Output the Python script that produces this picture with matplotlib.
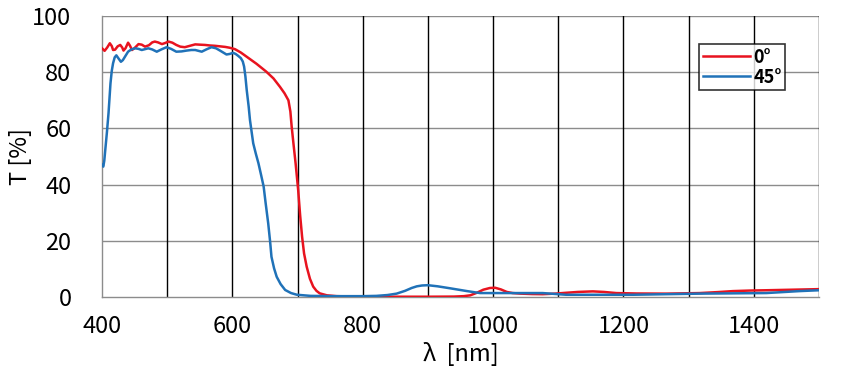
import matplotlib
matplotlib.use("Agg")
import matplotlib.pyplot as plt
import numpy as np

plt.rcParams['font.family'] = ['Noto Sans CJK JP', 'DejaVu Sans']

# 0 deg series
wl_0 = [400, 404, 408, 412, 415, 417, 420, 424, 428, 431, 433, 436, 440, 443, 446, 450, 456, 461,
        466, 472, 477, 481, 486, 492, 497, 502, 508, 514, 520, 527, 535, 543, 550, 558, 566, 573,
        581, 589, 596, 604, 613, 622, 637, 652, 663, 673, 680, 686, 689, 691, 694, 697, 701, 704,
        707, 710, 714, 719, 724, 729, 734, 745, 760, 800, 850, 900, 940, 955, 965, 975, 985, 995,
        1003, 1012, 1021, 1030, 1042, 1060, 1076, 1095, 1112, 1130, 1153, 1170, 1189, 1220, 1266,
        1317, 1345, 1368, 1395, 1419, 1460, 1500]
t_0 = [88.5, 87.6, 88.8, 90.3, 89.3, 87.9, 88.0, 89.2, 89.7, 88.8, 87.7, 88.5, 90.5, 89.4, 87.9, 88.6, 90.0, 89.8,
       89.1, 89.6, 90.6, 90.9, 90.6, 90.0, 90.4, 90.9, 90.5, 89.7, 89.1, 88.9, 89.4, 89.9, 89.8, 89.7, 89.5, 89.4,
       89.2, 89.0, 88.7, 88.2, 87.0, 85.5, 83.0, 80.2, 77.8, 74.8, 72.5, 70.0, 66.0, 60.6, 54.0, 47.6, 38.0, 29.0,
       21.4, 15.5, 10.8, 6.5, 3.7, 2.2, 1.3, 0.6, 0.3, 0.1, 0.1, 0.1, 0.15, 0.3, 0.6, 1.5, 2.6, 3.2,
       3.3, 2.7, 1.8, 1.4, 1.2, 1.05, 1.0, 1.2, 1.5, 1.8, 2.0, 1.8, 1.4, 1.25, 1.2,
       1.4, 1.75, 2.1, 2.3, 2.4, 2.6, 2.8]

# 45 deg series
wl_45 = [400, 402, 403.5, 405, 407.5, 410, 413, 415, 417, 419.5, 422, 425, 429, 432, 436, 440, 445, 451,
         456, 461, 466, 471, 477, 484, 491, 499, 506, 514, 522, 530, 537, 543, 548, 553, 560, 568,
         575, 581, 586, 591, 596, 601, 605, 609, 613, 616, 618, 620, 622, 625, 627, 630, 632, 636,
         640, 644, 648, 651, 655, 658, 660, 664, 668, 674, 681, 690, 699, 720, 755, 800, 821, 838,
         852, 865, 875, 883, 891, 900, 915, 934, 960, 980, 1010, 1076, 1112, 1215, 1317, 1419, 1470, 1500]
t_45 = [47.0, 46.4, 48.5, 52.3, 58.5, 65.4, 76.0, 80.5, 83.2, 85.3, 86.0, 85.0, 83.7, 84.3, 85.8, 87.3, 88.1, 88.5,
        88.3, 87.9, 88.2, 88.5, 88.1, 87.3, 88.1, 88.9, 88.3, 87.3, 87.4, 87.7, 87.9, 87.9, 87.6, 87.3, 88.1, 88.9,
        88.5, 87.7, 87.0, 86.3, 86.5, 86.9, 86.5, 85.8, 85.0, 83.8, 82.0, 78.5, 73.7, 67.8, 63.0, 58.0, 54.7, 51.0,
        47.6, 43.5, 39.3, 33.5, 26.2, 19.5, 14.3, 10.2, 7.2, 4.6, 2.5, 1.4, 0.8, 0.4, 0.3, 0.3, 0.4, 0.7,
        1.2, 2.2, 3.2, 3.8, 4.1, 4.2, 3.8, 3.1, 2.1, 1.4, 1.4, 1.4, 0.8, 0.8, 1.2, 1.4, 2.1, 2.4]

labels = ['0°', '45°']
colors = ['#e8131f', '#2072b8']

fig = plt.figure(figsize=(8.54, 3.80), dpi=100)
ax = fig.add_axes([102/854, 1-297/380, (819-102)/854, (297-16)/380])

ax.plot(wl_0, t_0, color=colors[0], lw=1.8, label=labels[0], zorder=3)
ax.plot(wl_45, t_45, color=colors[1], lw=1.8, label=labels[1], zorder=4)

ax.set_xlim(400, 1500)
ax.set_ylim(0, 100)
ax.set_xticks(np.arange(400, 1501, 200))
ax.set_yticks(np.arange(0, 101, 20))

ax.grid(False)
for y in range(20, 101, 20):
    ax.axhline(y, color='#8c8c8c', lw=1.0, zorder=1)
for x in range(500, 1501, 100):
    ax.axvline(x, color='black', lw=1.0, zorder=1)

for s in ['top', 'right']:
    ax.spines[s].set_visible(False)
for s in ['left', 'bottom']:
    ax.spines[s].set_color('#8c8c8c')
    ax.spines[s].set_linewidth(1.0)

ax.tick_params(axis='both', which='both', length=0, labelsize=17, colors='black')
ax.tick_params(axis='y', pad=22)
ax.tick_params(axis='x', pad=13)

ax.set_xlabel('λ  [nm]', fontsize=17)
ax.xaxis.set_label_coords(0.5, -0.16)
ax.set_ylabel('T [%]', fontsize=17)
ax.yaxis.set_label_coords(-0.098, 0.5)

leg = ax.legend(loc='upper left', bbox_to_anchor=((699-102)/717, 1-(44-16)/281),
                frameon=True, fancybox=False, edgecolor='black',
                prop={'weight': 'bold', 'size': 13}, handlelength=2.6, handletextpad=0.2,
                borderpad=0.2, labelspacing=0.05, borderaxespad=0)
leg.get_frame().set_linewidth(1.2)

fig.savefig('out.png', dpi=100)
